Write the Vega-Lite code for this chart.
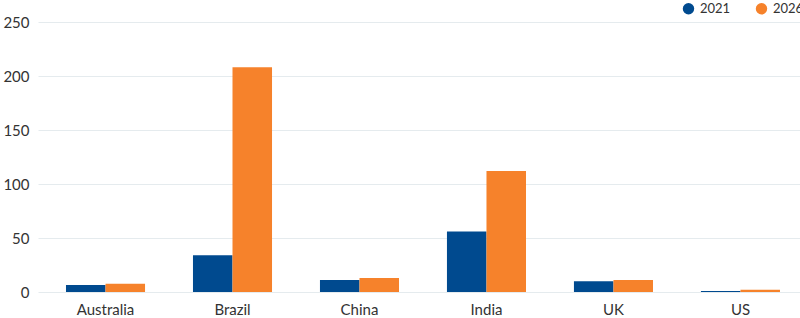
{
  "$schema": "https://vega.github.io/schema/vega-lite/v6.json",
  "width": 762,
  "height": 270,
  "autosize": {"type": "none"},
  "padding": {"left": 38, "top": 22, "right": 0, "bottom": 26},
  "background": "white",
  "config": {
    "view": {"stroke": null},
    "font": "Lato",
    "axis": {"labelFont": "Lato", "labelColor": "#333333", "titleFont": "Lato"}
  },
  "data": {
    "values": [
      {"country": "Australia", "year": "2021", "value": 6.5},
      {"country": "Australia", "year": "2026", "value": 7.6},
      {"country": "Brazil", "year": "2021", "value": 34},
      {"country": "Brazil", "year": "2026", "value": 208},
      {"country": "China", "year": "2021", "value": 11},
      {"country": "China", "year": "2026", "value": 13},
      {"country": "India", "year": "2021", "value": 56},
      {"country": "India", "year": "2026", "value": 112},
      {"country": "UK", "year": "2021", "value": 10},
      {"country": "UK", "year": "2026", "value": 11},
      {"country": "US", "year": "2021", "value": 1},
      {"country": "US", "year": "2026", "value": 2}
    ]
  },
  "mark": {"type": "bar"},
  "encoding": {
    "x": {
      "field": "country",
      "type": "nominal",
      "sort": null,
      "scale": {"paddingInner": 0.3775, "paddingOuter": 0.189, "align": 0.583},
      "axis": {"title": null, "labelAngle": 0, "labelFontSize": 15, "ticks": false, "domain": false, "labelPadding": 10}
    },
    "xOffset": {"field": "year", "type": "nominal"},
    "y": {
      "field": "value",
      "type": "quantitative",
      "scale": {"domain": [0, 250], "nice": false},
      "axis": {"title": null, "values": [0, 50, 100, 150, 200, 250], "labelFontSize": 15, "ticks": false, "domain": false, "labelPadding": 9, "gridColor": "#e5ebee", "gridWidth": 1}
    },
    "color": {
      "field": "year",
      "type": "nominal",
      "scale": {"domain": ["2021", "2026"], "range": ["#004a8f", "#f6822b"]},
      "legend": {
        "title": null,
        "orient": "none",
        "legendX": 644,
        "legendY": -20,
        "direction": "horizontal",
        "symbolType": "circle",
        "symbolSize": 130,
        "symbolOpacity": 1,
        "labelFontSize": 13,
        "labelOffset": 5,
        "labelColor": "#333333",
        "columnPadding": 24,
        "symbolOffset": 0
      }
    }
  }
}
